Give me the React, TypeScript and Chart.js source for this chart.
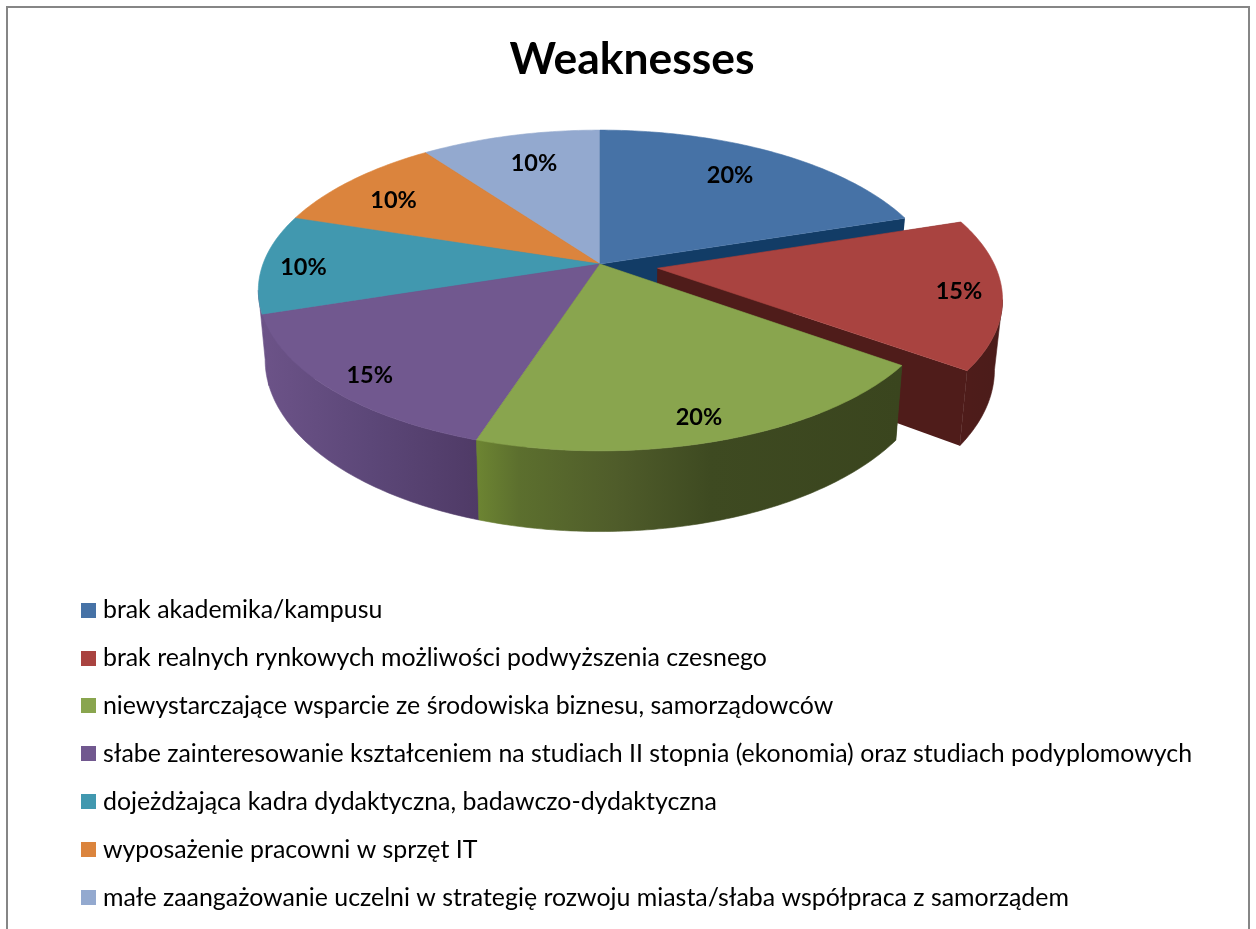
import React, { useEffect, useRef } from "react";
import { Chart, registerables } from "chart.js";

Chart.register(...registerables);

const categories = [
  "brak akademika/kampusu",
  "brak realnych rynkowych możliwości podwyższenia czesnego",
  "niewystarczające wsparcie ze środowiska biznesu, samorządowców",
  "słabe zainteresowanie kształceniem na studiach II stopnia (ekonomia) oraz studiach podyplomowych",
  "dojeżdżająca kadra dydaktyczna, badawczo-dydaktyczna",
  "wyposażenie pracowni w sprzęt IT",
  "małe zaangażowanie uczelni w strategię rozwoju miasta/słaba współpraca z samorządem",
];
const shares = [20, 15, 20, 15, 10, 10, 10];
const topColors = ["#4672a6", "#a94340", "#89a54e", "#71588f", "#4198af", "#db843d", "#93a9cf"];
const wallStops: [number, string][][] = [
  [[0, "#123c66"], [1, "#123c66"]],
  [[0, "#4f1c1a"], [1, "#4b1c1a"]],
  [[0, "#6d8532"], [0.1, "#5c6f2e"], [0.33, "#4f5c2a"], [0.55, "#3e4a21"], [1, "#3a451e"]],
  [[0, "#6c5388"], [0.5, "#5c4778"], [1, "#4f3a66"]],
  [[0, "#6c5388"], [1, "#6c5388"]],
  [[0, "#8a5020"], [1, "#8a5020"]],
  [[0, "#5c6c8a"], [1, "#5c6c8a"]],
];
const radialWall = ["#123c66", "#4f1c1a", "#3a461e", "#4f3a66", "#6c5388", "#8a5020", "#5c6c8a"];
const explode = [0, 0.172, 0, 0, 0, 0, 0];
const labelRadius = [0.72, 0.9, 0.87, 0.8, 0.88, 0.8, 0.8];
const labelNudge = [[0, -6], [-8, 1], [-6, 4], [-20, 14], [0, 3], [-4, 4], [8, 5]];

// Projection of the pie disc onto the page
const CX = 600, CY = 264, RX = 337, RY = 156, PERSP = 0.165, DEPTH = 67.4, BOTTOM_SHRINK = 0.98;

type P = [number, number];
const top = (u: number, v: number): P => {
  const s = 1 / (1 - PERSP * v);
  return [CX + RX * u * s, CY + RY * v * s];
};
const bottom = (u: number, v: number): P => {
  const s = 1 / (1 - PERSP * v);
  return [CX + RX * u * s * BOTTOM_SHRINK, CY + RY * v * s + DEPTH * s];
};

const pie3d = {
  id: "pie3d",
  beforeDraw(chart: any) {
    const { ctx, width } = chart;
    ctx.save();
    ctx.fillStyle = "#ffffff";
    ctx.fillRect(0, 0, width, chart.height);
    ctx.strokeStyle = "#868686";
    ctx.lineWidth = 2;
    ctx.strokeRect(7, 7, width - 14, chart.height + 20);
    ctx.restore();
  },
  afterLayout(chart: any) {
    // the legend rows are wider than a side box is normally allowed to be
    chart.legend.width = chart.width;
    chart.legend.right = chart.legend.left + chart.width;
  },
  beforeDatasetsDraw(chart: any) {
    const { ctx } = chart;
    const arcs = chart.getDatasetMeta(0).data;
    const slices = arcs.map((arc: any, i: number) => {
      const mid = (arc.startAngle + arc.endAngle) / 2;
      const ou = Math.cos(mid) * explode[i], ov = Math.sin(mid) * explode[i];
      const n = Math.max(2, Math.ceil((arc.endAngle - arc.startAngle) / 0.015));
      const rim: [number, number][] = [];
      for (let k = 0; k <= n; k++) {
        const a = arc.startAngle + ((arc.endAngle - arc.startAngle) * k) / n;
        rim.push([Math.cos(a) + ou, Math.sin(a) + ov]);
      }
      return { i, mid, ou, ov, rim, depth: Math.sin(mid) + ov };
    });
    const order = [...slices].sort((a: any, b: any) => a.depth - b.depth);
    const path = (pts: P[]) => {
      ctx.beginPath();
      pts.forEach((p, k) => (k ? ctx.lineTo(p[0], p[1]) : ctx.moveTo(p[0], p[1])));
      ctx.closePath();
    };
    ctx.save();
    ctx.lineJoin = "round";
    for (const s of order) {
      const { i, ou, ov, rim } = s;
      // radial walls
      for (const e of [rim[0], rim[rim.length - 1]]) {
        path([top(ou, ov), top(e[0], e[1]), bottom(e[0], e[1]), bottom(ou, ov)]);
        ctx.fillStyle = radialWall[i];
        ctx.fill();
      }
      // outer wall: only the stretch of the rim that faces the viewer
      const front: [number, number][] = [];
      for (let k = 0; k < rim.length - 1; k++) {
        const a = top(rim[k][0], rim[k][1]);
        const b = top(rim[k + 1][0], rim[k + 1][1]);
        if (b[0] < a[0]) {
          if (!front.length) front.push(rim[k]);
          front.push(rim[k + 1]);
        }
      }
      if (front.length > 1) {
        const poly: P[] = [
          ...front.map((r) => top(r[0], r[1])),
          ...[...front].reverse().map((r) => bottom(r[0], r[1])),
        ];
        const xs = poly.map((p) => p[0]);
        const g = ctx.createLinearGradient(Math.min(...xs), 0, Math.max(...xs), 0);
        wallStops[i].forEach(([o, c]) => g.addColorStop(o, c));
        path(poly);
        ctx.fillStyle = g;
        ctx.fill();
        ctx.strokeStyle = g;
        ctx.lineWidth = 0.6;
        ctx.stroke();
      }
    }
    for (const s of order) {
      const { i, ou, ov, rim } = s;
      path([top(ou, ov), ...rim.map((r: number[]) => top(r[0], r[1]))]);
      ctx.fillStyle = topColors[i];
      ctx.fill();
      ctx.strokeStyle = topColors[i];
      ctx.lineWidth = 0.6;
      ctx.stroke();
    }
    // value labels
    ctx.fillStyle = "#000000";
    ctx.font = "bold 23.5px Lato";
    ctx.textAlign = "center";
    ctx.textBaseline = "middle";
    for (const s of slices) {
      const r = labelRadius[s.i];
      const p = top(Math.cos(s.mid) * r + s.ou, Math.sin(s.mid) * r + s.ov);
      ctx.fillText(shares[s.i] + "%", p[0] + labelNudge[s.i][0], p[1] + labelNudge[s.i][1]);
    }
    ctx.restore();
    return false;
  },
};

function swatch(color: string) {
  const c = document.createElement("canvas");
  c.width = 15;
  c.height = 15;
  const x = c.getContext("2d")!;
  x.fillStyle = color;
  x.fillRect(0, 0, 15, 15);
  return c;
}

export default function App() {
  const ref = useRef<HTMLCanvasElement>(null);
  useEffect(() => {
    document.body.style.margin = "0";
    document.body.style.overflow = "hidden";
    const chart = new Chart(ref.current!, {
      type: "pie",
      data: {
        labels: categories,
        datasets: [{ data: shares, backgroundColor: topColors, borderWidth: 0 }],
      },
      plugins: [pie3d],
      options: {
        responsive: false,
        animation: false,
        layout: { padding: { left: 63.5, right: 55.5, top: 33, bottom: -4 } },
        plugins: {
          tooltip: { enabled: false },
          title: {
            display: true,
            text: "Weaknesses",
            color: "#000000",
            font: { family: "Lato", size: 44.4, weight: "bold" },
            padding: 0,
          },
          legend: {
            position: "left",
            align: "end",
            labels: {
              color: "#000000",
              font: { family: "Lato", size: 24.9 },
              padding: 23,
              usePointStyle: true,
              pointStyleWidth: 4,
              generateLabels(c: any) {
                const base = (Chart as any).overrides.pie.plugins.legend.labels.generateLabels(c);
                return base.map((it: any, i: number) => ({ ...it, pointStyle: swatch(topColors[i]) }));
              },
            },
          },
        },
      } as any,
    });
    return () => chart.destroy();
  }, []);
  return <canvas ref={ref} width={1256} height={929} style={{ display: "block" }} />;
}
